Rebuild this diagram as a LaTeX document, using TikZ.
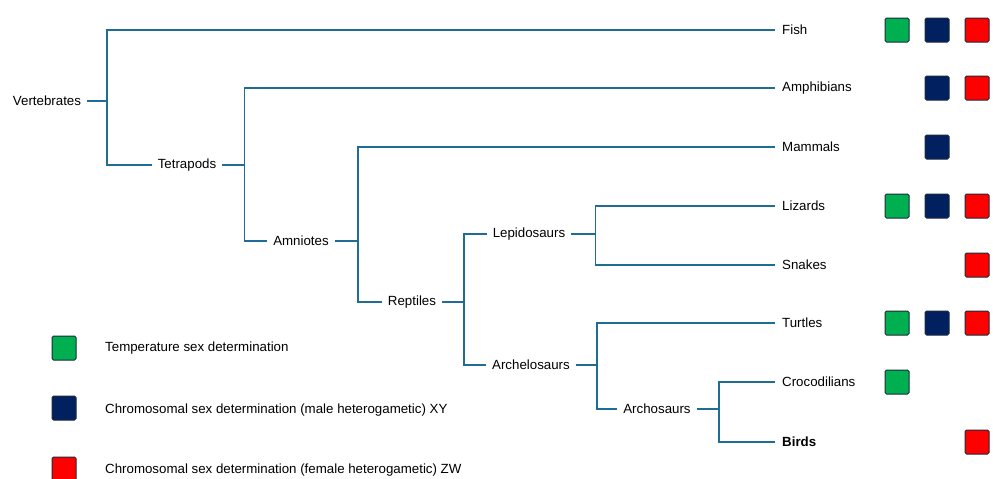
\documentclass[tikz,border=0pt]{standalone}
\usepackage{fontspec}
\setmainfont{Liberation Sans}
\usetikzlibrary{positioning}

\definecolor{branchblue}{HTML}{1F6C94}
\definecolor{tsdgreen}{HTML}{00B050}
\definecolor{xyblue}{HTML}{002060}
\definecolor{zwred}{HTML}{FF0000}
\definecolor{boxedge}{HTML}{1C2A3A}

\begin{document}
\begin{tikzpicture}[
        x=1pt, y=-1pt,
        clade/.style={
            inner xsep=6pt,
            inner ysep=2pt,
            font=\fontsize{13.3}{15}\selectfont
        },
        taxon/.style={
            anchor=west,
            inner xsep=7pt,
            inner ysep=2pt,
            font=\fontsize{13.3}{15}\selectfont
        },
        keytext/.style={
            anchor=west,
            inner sep=0pt,
            font=\fontsize{13.3}{15}\selectfont
        },
        sdbox/.style={
            rectangle,
            draw=boxedge,
            line width=1pt,
            rounded corners=1.5pt,
            minimum size=24pt,
            inner sep=0pt
        },
        branch/.style={
            draw=branchblue,
            line width=1.8pt
        }
    ]
    \useasboundingbox (0,0) rectangle (993,479);

    % Internal clades
    \node[clade] (vert) at (47,101) {Vertebrates};
    \node[clade] (tetra) at (187,165) {Tetrapods};
    \node[clade] (amnio) at (301,241) {Amniotes};
    \node[clade] (rept) at (412,302) {Reptiles};
    \node[clade] (lepido) at (529,234) {Lepidosaurs};
    \node[clade] (archel) at (531,365) {Archelosaurs};
    \node[clade] (archo) at (657,409) {Archosaurs};

    % Living groups
    \node[taxon] (fish) at (775,30) {Fish};
    \node[taxon] (amphib) at (775,88) {Amphibians};
    \node[taxon] (mammal) at (775,147) {Mammals};
    \node[taxon] (lizard) at (775,206) {Lizards};
    \node[taxon] (snake) at (775,265) {Snakes};
    \node[taxon] (turtle) at (775,323) {Turtles};
    \node[taxon] (croc) at (775,382) {Crocodilians};
    \node[taxon] (bird) at (775,442) {\textbf{Birds}};

    % Branches
    \draw[branch] (vert.east) -- ++(20,0) coordinate (jvert);
    \draw[branch] (fish.west) -| (jvert) |- (tetra.west);
    \draw[branch] (tetra.east) -- ++(22,0) coordinate (jtetra);
    \draw[branch] (amphib.west) -| (jtetra) |- (amnio.west);
    \draw[branch] (amnio.east) -- ++(23,0) coordinate (jamnio);
    \draw[branch] (mammal.west) -| (jamnio) |- (rept.west);
    \draw[branch] (rept.east) -- ++(22,0) coordinate (jrept);
    \draw[branch] (lepido.west) -| (jrept) |- (archel.west);
    \draw[branch] (lepido.east) -- ++(24,0) coordinate (jlepido);
    \draw[branch] (lizard.west) -| (jlepido) |- (snake.west);
    \draw[branch] (archel.east) -- ++(21,0) coordinate (jarchel);
    \draw[branch] (turtle.west) -| (jarchel) |- (archo.west);
    \draw[branch] (archo.east) -- ++(22,0) coordinate (jarcho);
    \draw[branch] (croc.west) -| (jarcho) |- (bird.west);

    % Sex determination boxes
    \node[sdbox, fill=tsdgreen] (fish-t) at (897,30) {};
    \node[sdbox, fill=xyblue] (fish-xy) at (937,30) {};
    \node[sdbox, fill=zwred] (fish-zw) at (977,30) {};
    \node[sdbox, fill=xyblue] (amphib-xy) at (937,88) {};
    \node[sdbox, fill=zwred] (amphib-zw) at (977,88) {};
    \node[sdbox, fill=xyblue] (mammal-xy) at (937,147) {};
    \node[sdbox, fill=tsdgreen] (lizard-t) at (897,206) {};
    \node[sdbox, fill=xyblue] (lizard-xy) at (937,206) {};
    \node[sdbox, fill=zwred] (lizard-zw) at (977,206) {};
    \node[sdbox, fill=zwred] (snake-zw) at (977,265) {};
    \node[sdbox, fill=tsdgreen] (turtle-t) at (897,323) {};
    \node[sdbox, fill=xyblue] (turtle-xy) at (937,323) {};
    \node[sdbox, fill=zwred] (turtle-zw) at (977,323) {};
    \node[sdbox, fill=tsdgreen] (croc-t) at (897,382) {};
    \node[sdbox, fill=zwred] (bird-zw) at (977,442) {};

    % Key
    \node[sdbox, fill=tsdgreen] (key-t) at (64,348) {};
    \node[sdbox, fill=xyblue] (key-xy) at (64,408) {};
    \node[sdbox, fill=zwred] (key-zw) at (64,469) {};
    \node[keytext] (key-t-text) at (105,348) {Temperature sex determination};
    \node[keytext] (key-xy-text) at (105,410) {Chromosomal sex determination (male heterogametic) XY};
    \node[keytext] (key-zw-text) at (105,470) {Chromosomal sex determination (female heterogametic) ZW};

\end{tikzpicture}
\end{document}
